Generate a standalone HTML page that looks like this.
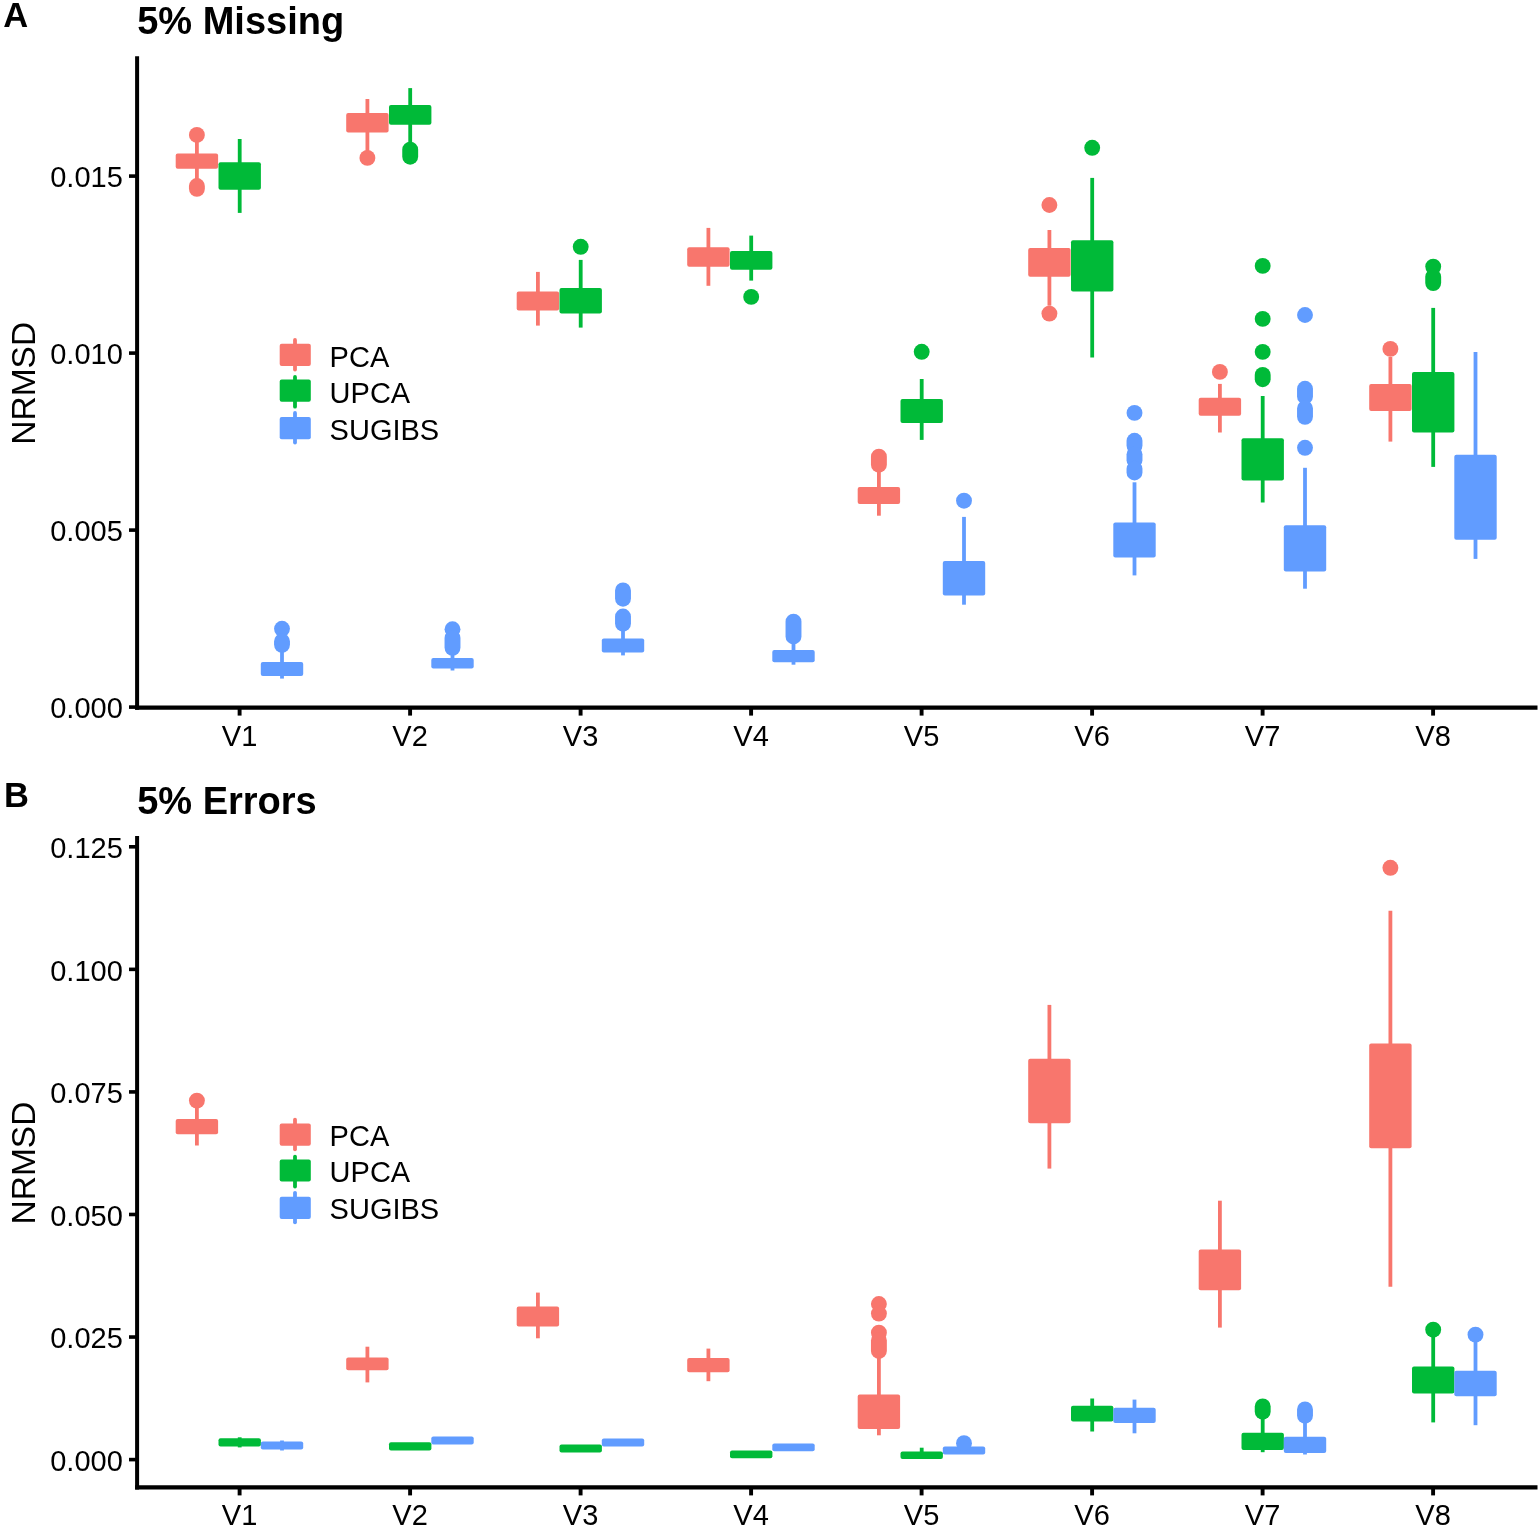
<!DOCTYPE html>
<html><head><meta charset="utf-8"><title>NRMSD boxplots</title>
<style>html,body{margin:0;padding:0;background:#fff;}svg{display:block;}</style>
</head><body>
<svg width="1540" height="1529" viewBox="0 0 1540 1529">
<rect width="1540" height="1529" fill="#fff"/>
<text x="3.3" y="26.8" font-family="Liberation Sans, Arial, sans-serif" font-weight="bold" font-size="34.5">A</text>
<text x="137.2" y="34" font-family="Liberation Sans, Arial, sans-serif" font-weight="bold" font-size="38">5% Missing</text>
<text transform="translate(35.3,383.3) rotate(-90)" text-anchor="middle" font-family="Liberation Sans, Arial, sans-serif" font-size="33.5">NRMSD</text>
<g stroke="#000" stroke-width="4" fill="none">
<line x1="137.1" y1="56.2" x2="137.1" y2="709.75"/>
<line x1="135.1" y1="707.6" x2="1537.5" y2="707.6" stroke-width="4.3"/>
<line x1="129" y1="707.1" x2="137" y2="707.1" stroke-width="3.6"/>
<line x1="129" y1="530.1" x2="137" y2="530.1" stroke-width="3.6"/>
<line x1="129" y1="353.1" x2="137" y2="353.1" stroke-width="3.6"/>
<line x1="129" y1="176.1" x2="137" y2="176.1" stroke-width="3.6"/>
<line x1="239.6" y1="707.6" x2="239.6" y2="715.6" stroke-width="3.9"/>
<line x1="410.1" y1="707.6" x2="410.1" y2="715.6" stroke-width="3.9"/>
<line x1="580.6" y1="707.6" x2="580.6" y2="715.6" stroke-width="3.9"/>
<line x1="751.1" y1="707.6" x2="751.1" y2="715.6" stroke-width="3.9"/>
<line x1="921.6" y1="707.6" x2="921.6" y2="715.6" stroke-width="3.9"/>
<line x1="1092.1" y1="707.6" x2="1092.1" y2="715.6" stroke-width="3.9"/>
<line x1="1262.6" y1="707.6" x2="1262.6" y2="715.6" stroke-width="3.9"/>
<line x1="1433.1" y1="707.6" x2="1433.1" y2="715.6" stroke-width="3.9"/>
</g>
<g font-family="Liberation Sans, Arial, sans-serif" font-size="29" fill="#000">
<text x="122.8" y="718.3" text-anchor="end">0.000</text>
<text x="122.8" y="541.3" text-anchor="end">0.005</text>
<text x="122.8" y="364.3" text-anchor="end">0.010</text>
<text x="122.8" y="187.3" text-anchor="end">0.015</text>
<text x="239.6" y="745.5" text-anchor="middle">V1</text>
<text x="410.1" y="745.5" text-anchor="middle">V2</text>
<text x="580.6" y="745.5" text-anchor="middle">V3</text>
<text x="751.1" y="745.5" text-anchor="middle">V4</text>
<text x="921.6" y="745.5" text-anchor="middle">V5</text>
<text x="1092.1" y="745.5" text-anchor="middle">V6</text>
<text x="1262.6" y="745.5" text-anchor="middle">V7</text>
<text x="1433.1" y="745.5" text-anchor="middle">V8</text>
</g>
<g fill="#F8766D" stroke="#F8766D"><line x1="196.9" y1="140" x2="196.9" y2="154.4" stroke-width="3.8"/><line x1="196.9" y1="167.7" x2="196.9" y2="180" stroke-width="3.8"/><rect x="175.7" y="153.4" width="42.4" height="15.3" rx="2" stroke="none"/><circle cx="196.9" cy="134.9" r="7.95" stroke="none"/><line x1="196.9" y1="186" x2="196.9" y2="188.8" stroke-width="15.9" stroke-linecap="round"/></g>
<g fill="#00BA38" stroke="#00BA38"><line x1="239.7" y1="139" x2="239.7" y2="163.2" stroke-width="3.8"/><line x1="239.7" y1="188.7" x2="239.7" y2="212.9" stroke-width="3.8"/><rect x="218.5" y="162.2" width="42.4" height="27.5" rx="2" stroke="none"/></g>
<g fill="#619CFF" stroke="#619CFF"><line x1="282" y1="648" x2="282" y2="662.9" stroke-width="3.8"/><line x1="282" y1="674.9" x2="282" y2="678.6" stroke-width="3.8"/><rect x="260.8" y="661.9" width="42.4" height="14" rx="2" stroke="none"/><circle cx="282" cy="628.8" r="7.95" stroke="none"/><line x1="282" y1="641.3" x2="282" y2="644.8" stroke-width="15.9" stroke-linecap="round"/></g>
<g fill="#F8766D" stroke="#F8766D"><line x1="367.4" y1="99" x2="367.4" y2="114.1" stroke-width="3.8"/><line x1="367.4" y1="131.6" x2="367.4" y2="157.9" stroke-width="3.8"/><rect x="346.2" y="113.1" width="42.4" height="19.5" rx="2" stroke="none"/><circle cx="367.4" cy="157.9" r="7.95" stroke="none"/></g>
<g fill="#00BA38" stroke="#00BA38"><line x1="410.2" y1="88.1" x2="410.2" y2="106" stroke-width="3.8"/><line x1="410.2" y1="123.7" x2="410.2" y2="150" stroke-width="3.8"/><rect x="389" y="105" width="42.4" height="19.7" rx="2" stroke="none"/><line x1="410.2" y1="149.7" x2="410.2" y2="156.7" stroke-width="15.9" stroke-linecap="round"/></g>
<g fill="#619CFF" stroke="#619CFF"><line x1="452.5" y1="645" x2="452.5" y2="659" stroke-width="3.8"/><line x1="452.5" y1="667.5" x2="452.5" y2="670.5" stroke-width="3.8"/><rect x="431.3" y="658" width="42.4" height="10.5" rx="2" stroke="none"/><circle cx="452.5" cy="629.3" r="7.95" stroke="none"/><line x1="452.5" y1="637.9" x2="452.5" y2="647.8" stroke-width="15.9" stroke-linecap="round"/></g>
<g fill="#F8766D" stroke="#F8766D"><line x1="537.9" y1="271.9" x2="537.9" y2="292.4" stroke-width="3.8"/><line x1="537.9" y1="309.4" x2="537.9" y2="325.6" stroke-width="3.8"/><rect x="516.7" y="291.4" width="42.4" height="19" rx="2" stroke="none"/></g>
<g fill="#00BA38" stroke="#00BA38"><line x1="580.7" y1="259.9" x2="580.7" y2="289.1" stroke-width="3.8"/><line x1="580.7" y1="312.6" x2="580.7" y2="327.6" stroke-width="3.8"/><rect x="559.5" y="288.1" width="42.4" height="25.5" rx="2" stroke="none"/><circle cx="580.7" cy="246.8" r="7.95" stroke="none"/></g>
<g fill="#619CFF" stroke="#619CFF"><line x1="623" y1="624" x2="623" y2="639.6" stroke-width="3.8"/><line x1="623" y1="651.6" x2="623" y2="655.4" stroke-width="3.8"/><rect x="601.8" y="638.6" width="42.4" height="14" rx="2" stroke="none"/><line x1="623" y1="590.4" x2="623" y2="598.7" stroke-width="15.9" stroke-linecap="round"/><line x1="623" y1="616.5" x2="623" y2="623.7" stroke-width="15.9" stroke-linecap="round"/></g>
<g fill="#F8766D" stroke="#F8766D"><line x1="708.4" y1="227.9" x2="708.4" y2="248.2" stroke-width="3.8"/><line x1="708.4" y1="265.7" x2="708.4" y2="285.8" stroke-width="3.8"/><rect x="687.2" y="247.2" width="42.4" height="19.5" rx="2" stroke="none"/></g>
<g fill="#00BA38" stroke="#00BA38"><line x1="751.2" y1="235.6" x2="751.2" y2="252.1" stroke-width="3.8"/><line x1="751.2" y1="268.7" x2="751.2" y2="280.6" stroke-width="3.8"/><rect x="730" y="251.1" width="42.4" height="18.6" rx="2" stroke="none"/><circle cx="751.2" cy="296.9" r="7.95" stroke="none"/></g>
<g fill="#619CFF" stroke="#619CFF"><line x1="793.5" y1="636" x2="793.5" y2="650.9" stroke-width="3.8"/><line x1="793.5" y1="661.3" x2="793.5" y2="664.7" stroke-width="3.8"/><rect x="772.3" y="649.9" width="42.4" height="12.4" rx="2" stroke="none"/><line x1="793.5" y1="621.6" x2="793.5" y2="636.5" stroke-width="15.9" stroke-linecap="round"/></g>
<g fill="#F8766D" stroke="#F8766D"><line x1="878.9" y1="465" x2="878.9" y2="488" stroke-width="3.8"/><line x1="878.9" y1="503" x2="878.9" y2="515.7" stroke-width="3.8"/><rect x="857.7" y="487" width="42.4" height="17" rx="2" stroke="none"/><line x1="878.9" y1="456.7" x2="878.9" y2="464.7" stroke-width="15.9" stroke-linecap="round"/></g>
<g fill="#00BA38" stroke="#00BA38"><line x1="921.7" y1="379" x2="921.7" y2="400.1" stroke-width="3.8"/><line x1="921.7" y1="421.9" x2="921.7" y2="439.9" stroke-width="3.8"/><rect x="900.5" y="399.1" width="42.4" height="23.8" rx="2" stroke="none"/><circle cx="921.7" cy="351.8" r="7.95" stroke="none"/></g>
<g fill="#619CFF" stroke="#619CFF"><line x1="964" y1="516.9" x2="964" y2="562" stroke-width="3.8"/><line x1="964" y1="594.6" x2="964" y2="604.7" stroke-width="3.8"/><rect x="942.8" y="561" width="42.4" height="34.6" rx="2" stroke="none"/><circle cx="964" cy="500.7" r="7.95" stroke="none"/></g>
<g fill="#F8766D" stroke="#F8766D"><line x1="1049.4" y1="230" x2="1049.4" y2="249" stroke-width="3.8"/><line x1="1049.4" y1="275.7" x2="1049.4" y2="305.7" stroke-width="3.8"/><rect x="1028.2" y="248" width="42.4" height="28.7" rx="2" stroke="none"/><circle cx="1049.4" cy="205" r="7.95" stroke="none"/><circle cx="1049.4" cy="313.6" r="7.95" stroke="none"/></g>
<g fill="#00BA38" stroke="#00BA38"><line x1="1092.2" y1="177.9" x2="1092.2" y2="241.2" stroke-width="3.8"/><line x1="1092.2" y1="290.6" x2="1092.2" y2="357.5" stroke-width="3.8"/><rect x="1071" y="240.2" width="42.4" height="51.4" rx="2" stroke="none"/><circle cx="1092.2" cy="147.8" r="7.95" stroke="none"/></g>
<g fill="#619CFF" stroke="#619CFF"><line x1="1134.5" y1="482.3" x2="1134.5" y2="523.5" stroke-width="3.8"/><line x1="1134.5" y1="556.5" x2="1134.5" y2="575.4" stroke-width="3.8"/><rect x="1113.3" y="522.5" width="42.4" height="35" rx="2" stroke="none"/><circle cx="1134.5" cy="412.9" r="7.95" stroke="none"/><line x1="1134.5" y1="440.8" x2="1134.5" y2="445.7" stroke-width="15.9" stroke-linecap="round"/><line x1="1134.5" y1="454.3" x2="1134.5" y2="460.2" stroke-width="15.9" stroke-linecap="round"/><line x1="1134.5" y1="468.8" x2="1134.5" y2="472.5" stroke-width="15.9" stroke-linecap="round"/></g>
<g fill="#F8766D" stroke="#F8766D"><line x1="1219.9" y1="383.9" x2="1219.9" y2="398.8" stroke-width="3.8"/><line x1="1219.9" y1="414.7" x2="1219.9" y2="432.5" stroke-width="3.8"/><rect x="1198.7" y="397.8" width="42.4" height="17.9" rx="2" stroke="none"/><circle cx="1219.9" cy="371.9" r="7.95" stroke="none"/></g>
<g fill="#00BA38" stroke="#00BA38"><line x1="1262.7" y1="396" x2="1262.7" y2="439.3" stroke-width="3.8"/><line x1="1262.7" y1="479.4" x2="1262.7" y2="502.5" stroke-width="3.8"/><rect x="1241.5" y="438.3" width="42.4" height="42.1" rx="2" stroke="none"/><circle cx="1262.7" cy="265.9" r="7.95" stroke="none"/><circle cx="1262.7" cy="318.9" r="7.95" stroke="none"/><circle cx="1262.7" cy="351.9" r="7.95" stroke="none"/><line x1="1262.7" y1="374.9" x2="1262.7" y2="379.2" stroke-width="15.9" stroke-linecap="round"/></g>
<g fill="#619CFF" stroke="#619CFF"><line x1="1305" y1="467.8" x2="1305" y2="526.3" stroke-width="3.8"/><line x1="1305" y1="570.5" x2="1305" y2="588.7" stroke-width="3.8"/><rect x="1283.8" y="525.3" width="42.4" height="46.2" rx="2" stroke="none"/><circle cx="1305" cy="315" r="7.95" stroke="none"/><line x1="1305" y1="388.8" x2="1305" y2="396.5" stroke-width="15.9" stroke-linecap="round"/><line x1="1305" y1="408.3" x2="1305" y2="416.8" stroke-width="15.9" stroke-linecap="round"/><circle cx="1305" cy="447.8" r="7.95" stroke="none"/></g>
<g fill="#F8766D" stroke="#F8766D"><line x1="1390.4" y1="357" x2="1390.4" y2="385" stroke-width="3.8"/><line x1="1390.4" y1="410" x2="1390.4" y2="441.6" stroke-width="3.8"/><rect x="1369.2" y="384" width="42.4" height="27" rx="2" stroke="none"/><circle cx="1390.4" cy="348.9" r="7.95" stroke="none"/></g>
<g fill="#00BA38" stroke="#00BA38"><line x1="1433.2" y1="307.9" x2="1433.2" y2="373.1" stroke-width="3.8"/><line x1="1433.2" y1="431.6" x2="1433.2" y2="466.9" stroke-width="3.8"/><rect x="1412" y="372.1" width="42.4" height="60.5" rx="2" stroke="none"/><circle cx="1433.2" cy="266.6" r="7.95" stroke="none"/><line x1="1433.2" y1="276.8" x2="1433.2" y2="283.1" stroke-width="15.9" stroke-linecap="round"/></g>
<g fill="#619CFF" stroke="#619CFF"><line x1="1475.5" y1="352" x2="1475.5" y2="455.8" stroke-width="3.8"/><line x1="1475.5" y1="538.7" x2="1475.5" y2="558.9" stroke-width="3.8"/><rect x="1454.3" y="454.8" width="42.4" height="84.9" rx="2" stroke="none"/></g>
<line x1="295" y1="339.9" x2="295" y2="369.5" stroke="#F8766D" stroke-width="3.8" stroke-linecap="round"/>
<rect x="279.7" y="343.8" width="31.1" height="22.2" rx="2" fill="#F8766D"/>
<text x="329.6" y="366.5" font-family="Liberation Sans, Arial, sans-serif" font-size="29">PCA</text>
<line x1="295" y1="376.9" x2="295" y2="406.7" stroke="#00BA38" stroke-width="3.8" stroke-linecap="round"/>
<rect x="279.7" y="379.6" width="31.1" height="22.2" rx="2" fill="#00BA38"/>
<text x="329.6" y="402.6" font-family="Liberation Sans, Arial, sans-serif" font-size="29">UPCA</text>
<line x1="295" y1="413" x2="295" y2="442.5" stroke="#619CFF" stroke-width="3.8" stroke-linecap="round"/>
<rect x="279.7" y="417" width="31.1" height="22.2" rx="2" fill="#619CFF"/>
<text x="329.6" y="439.5" font-family="Liberation Sans, Arial, sans-serif" font-size="29">SUGIBS</text>
<text x="4" y="806.6" font-family="Liberation Sans, Arial, sans-serif" font-weight="bold" font-size="34.5">B</text>
<text x="137.2" y="813.8" font-family="Liberation Sans, Arial, sans-serif" font-weight="bold" font-size="38">5% Errors</text>
<text transform="translate(35.3,1163.1) rotate(-90)" text-anchor="middle" font-family="Liberation Sans, Arial, sans-serif" font-size="33.5">NRMSD</text>
<g stroke="#000" stroke-width="4" fill="none">
<line x1="137.1" y1="836" x2="137.1" y2="1489.55"/>
<line x1="135.1" y1="1487.4" x2="1537.5" y2="1487.4" stroke-width="4.3"/>
<line x1="129" y1="1459.6" x2="137" y2="1459.6" stroke-width="3.6"/>
<line x1="129" y1="1337.04" x2="137" y2="1337.04" stroke-width="3.6"/>
<line x1="129" y1="1214.48" x2="137" y2="1214.48" stroke-width="3.6"/>
<line x1="129" y1="1091.92" x2="137" y2="1091.92" stroke-width="3.6"/>
<line x1="129" y1="969.36" x2="137" y2="969.36" stroke-width="3.6"/>
<line x1="129" y1="846.8" x2="137" y2="846.8" stroke-width="3.6"/>
<line x1="239.6" y1="1487.4" x2="239.6" y2="1495.4" stroke-width="3.9"/>
<line x1="410.1" y1="1487.4" x2="410.1" y2="1495.4" stroke-width="3.9"/>
<line x1="580.6" y1="1487.4" x2="580.6" y2="1495.4" stroke-width="3.9"/>
<line x1="751.1" y1="1487.4" x2="751.1" y2="1495.4" stroke-width="3.9"/>
<line x1="921.6" y1="1487.4" x2="921.6" y2="1495.4" stroke-width="3.9"/>
<line x1="1092.1" y1="1487.4" x2="1092.1" y2="1495.4" stroke-width="3.9"/>
<line x1="1262.6" y1="1487.4" x2="1262.6" y2="1495.4" stroke-width="3.9"/>
<line x1="1433.1" y1="1487.4" x2="1433.1" y2="1495.4" stroke-width="3.9"/>
</g>
<g font-family="Liberation Sans, Arial, sans-serif" font-size="29" fill="#000">
<text x="122.8" y="1470.8" text-anchor="end">0.000</text>
<text x="122.8" y="1348.24" text-anchor="end">0.025</text>
<text x="122.8" y="1225.68" text-anchor="end">0.050</text>
<text x="122.8" y="1103.12" text-anchor="end">0.075</text>
<text x="122.8" y="980.56" text-anchor="end">0.100</text>
<text x="122.8" y="858" text-anchor="end">0.125</text>
<text x="239.6" y="1525.3" text-anchor="middle">V1</text>
<text x="410.1" y="1525.3" text-anchor="middle">V2</text>
<text x="580.6" y="1525.3" text-anchor="middle">V3</text>
<text x="751.1" y="1525.3" text-anchor="middle">V4</text>
<text x="921.6" y="1525.3" text-anchor="middle">V5</text>
<text x="1092.1" y="1525.3" text-anchor="middle">V6</text>
<text x="1262.6" y="1525.3" text-anchor="middle">V7</text>
<text x="1433.1" y="1525.3" text-anchor="middle">V8</text>
</g>
<g fill="#F8766D" stroke="#F8766D"><line x1="196.9" y1="1105" x2="196.9" y2="1120" stroke-width="3.8"/><line x1="196.9" y1="1133.3" x2="196.9" y2="1145.5" stroke-width="3.8"/><rect x="175.7" y="1119" width="42.4" height="15.3" rx="2" stroke="none"/><circle cx="196.9" cy="1100.6" r="7.95" stroke="none"/></g>
<g fill="#00BA38" stroke="#00BA38"><line x1="239.7" y1="1437.3" x2="239.7" y2="1439.3" stroke-width="3.8"/><line x1="239.7" y1="1445.4" x2="239.7" y2="1447.4" stroke-width="3.8"/><rect x="218.5" y="1438.3" width="42.4" height="8.1" rx="2" stroke="none"/></g>
<g fill="#619CFF" stroke="#619CFF"><line x1="282" y1="1440.5" x2="282" y2="1442.6" stroke-width="3.8"/><line x1="282" y1="1448.4" x2="282" y2="1450.5" stroke-width="3.8"/><rect x="260.8" y="1441.6" width="42.4" height="7.8" rx="2" stroke="none"/></g>
<g fill="#F8766D" stroke="#F8766D"><line x1="367.4" y1="1346.7" x2="367.4" y2="1358.6" stroke-width="3.8"/><line x1="367.4" y1="1369.3" x2="367.4" y2="1382.4" stroke-width="3.8"/><rect x="346.2" y="1357.6" width="42.4" height="12.7" rx="2" stroke="none"/></g>
<g fill="#00BA38" stroke="#00BA38"><rect x="389" y="1442.2" width="42.4" height="8.3" rx="2" stroke="none"/></g>
<g fill="#619CFF" stroke="#619CFF"><rect x="431.3" y="1436.6" width="42.4" height="7.8" rx="2" stroke="none"/></g>
<g fill="#F8766D" stroke="#F8766D"><line x1="537.9" y1="1292.6" x2="537.9" y2="1307.4" stroke-width="3.8"/><line x1="537.9" y1="1325.4" x2="537.9" y2="1338.3" stroke-width="3.8"/><rect x="516.7" y="1306.4" width="42.4" height="20" rx="2" stroke="none"/></g>
<g fill="#00BA38" stroke="#00BA38"><rect x="559.5" y="1444.5" width="42.4" height="7.9" rx="2" stroke="none"/></g>
<g fill="#619CFF" stroke="#619CFF"><rect x="601.8" y="1438.5" width="42.4" height="7.9" rx="2" stroke="none"/></g>
<g fill="#F8766D" stroke="#F8766D"><line x1="708.4" y1="1348.6" x2="708.4" y2="1358.9" stroke-width="3.8"/><line x1="708.4" y1="1371.2" x2="708.4" y2="1381.2" stroke-width="3.8"/><rect x="687.2" y="1357.9" width="42.4" height="14.3" rx="2" stroke="none"/></g>
<g fill="#00BA38" stroke="#00BA38"><rect x="730" y="1450.5" width="42.4" height="7.7" rx="2" stroke="none"/></g>
<g fill="#619CFF" stroke="#619CFF"><rect x="772.3" y="1443.6" width="42.4" height="7.7" rx="2" stroke="none"/></g>
<g fill="#F8766D" stroke="#F8766D"><line x1="878.9" y1="1352" x2="878.9" y2="1395.5" stroke-width="3.8"/><line x1="878.9" y1="1428.1" x2="878.9" y2="1435.3" stroke-width="3.8"/><rect x="857.7" y="1394.5" width="42.4" height="34.6" rx="2" stroke="none"/><circle cx="878.9" cy="1304" r="7.95" stroke="none"/><circle cx="878.9" cy="1313.6" r="7.95" stroke="none"/><circle cx="878.9" cy="1332.7" r="7.95" stroke="none"/><line x1="878.9" y1="1340.4" x2="878.9" y2="1351" stroke-width="15.9" stroke-linecap="round"/></g>
<g fill="#00BA38" stroke="#00BA38"><line x1="921.7" y1="1447.7" x2="921.7" y2="1452.4" stroke-width="3.8"/><rect x="900.5" y="1451.4" width="42.4" height="7.5" rx="2" stroke="none"/></g>
<g fill="#619CFF" stroke="#619CFF"><rect x="942.8" y="1446.5" width="42.4" height="8" rx="2" stroke="none"/><circle cx="964" cy="1443.2" r="7.95" stroke="none"/></g>
<g fill="#F8766D" stroke="#F8766D"><line x1="1049.4" y1="1004.9" x2="1049.4" y2="1059.7" stroke-width="3.8"/><line x1="1049.4" y1="1122.3" x2="1049.4" y2="1168.6" stroke-width="3.8"/><rect x="1028.2" y="1058.7" width="42.4" height="64.6" rx="2" stroke="none"/></g>
<g fill="#00BA38" stroke="#00BA38"><line x1="1092.2" y1="1398.5" x2="1092.2" y2="1406.8" stroke-width="3.8"/><line x1="1092.2" y1="1420.5" x2="1092.2" y2="1431.5" stroke-width="3.8"/><rect x="1071" y="1405.8" width="42.4" height="15.7" rx="2" stroke="none"/></g>
<g fill="#619CFF" stroke="#619CFF"><line x1="1134.5" y1="1399.6" x2="1134.5" y2="1408.8" stroke-width="3.8"/><line x1="1134.5" y1="1422.1" x2="1134.5" y2="1433.3" stroke-width="3.8"/><rect x="1113.3" y="1407.8" width="42.4" height="15.3" rx="2" stroke="none"/></g>
<g fill="#F8766D" stroke="#F8766D"><line x1="1219.9" y1="1200.7" x2="1219.9" y2="1250.6" stroke-width="3.8"/><line x1="1219.9" y1="1289.2" x2="1219.9" y2="1327.6" stroke-width="3.8"/><rect x="1198.7" y="1249.6" width="42.4" height="40.6" rx="2" stroke="none"/></g>
<g fill="#00BA38" stroke="#00BA38"><line x1="1262.7" y1="1412" x2="1262.7" y2="1433.7" stroke-width="3.8"/><line x1="1262.7" y1="1449" x2="1262.7" y2="1452.2" stroke-width="3.8"/><rect x="1241.5" y="1432.7" width="42.4" height="17.3" rx="2" stroke="none"/><line x1="1262.7" y1="1406.4" x2="1262.7" y2="1411.7" stroke-width="15.9" stroke-linecap="round"/></g>
<g fill="#619CFF" stroke="#619CFF"><line x1="1305" y1="1415" x2="1305" y2="1437.7" stroke-width="3.8"/><line x1="1305" y1="1452.1" x2="1305" y2="1454.5" stroke-width="3.8"/><rect x="1283.8" y="1436.7" width="42.4" height="16.4" rx="2" stroke="none"/><line x1="1305" y1="1409.4" x2="1305" y2="1415.7" stroke-width="15.9" stroke-linecap="round"/></g>
<g fill="#F8766D" stroke="#F8766D"><line x1="1390.4" y1="910.7" x2="1390.4" y2="1044.6" stroke-width="3.8"/><line x1="1390.4" y1="1147.2" x2="1390.4" y2="1286.8" stroke-width="3.8"/><rect x="1369.2" y="1043.6" width="42.4" height="104.6" rx="2" stroke="none"/><circle cx="1390.4" cy="867.8" r="7.95" stroke="none"/></g>
<g fill="#00BA38" stroke="#00BA38"><line x1="1433.2" y1="1330" x2="1433.2" y2="1367.5" stroke-width="3.8"/><line x1="1433.2" y1="1392.4" x2="1433.2" y2="1422.4" stroke-width="3.8"/><rect x="1412" y="1366.5" width="42.4" height="26.9" rx="2" stroke="none"/><circle cx="1433.2" cy="1329.7" r="7.95" stroke="none"/></g>
<g fill="#619CFF" stroke="#619CFF"><line x1="1475.5" y1="1335" x2="1475.5" y2="1371.8" stroke-width="3.8"/><line x1="1475.5" y1="1395.2" x2="1475.5" y2="1425.2" stroke-width="3.8"/><rect x="1454.3" y="1370.8" width="42.4" height="25.4" rx="2" stroke="none"/><circle cx="1475.5" cy="1334.6" r="7.95" stroke="none"/></g>
<line x1="295" y1="1119.7" x2="295" y2="1149.3" stroke="#F8766D" stroke-width="3.8" stroke-linecap="round"/>
<rect x="279.7" y="1123.6" width="31.1" height="22.2" rx="2" fill="#F8766D"/>
<text x="329.6" y="1146.3" font-family="Liberation Sans, Arial, sans-serif" font-size="29">PCA</text>
<line x1="295" y1="1156.7" x2="295" y2="1186.5" stroke="#00BA38" stroke-width="3.8" stroke-linecap="round"/>
<rect x="279.7" y="1159.4" width="31.1" height="22.2" rx="2" fill="#00BA38"/>
<text x="329.6" y="1182.4" font-family="Liberation Sans, Arial, sans-serif" font-size="29">UPCA</text>
<line x1="295" y1="1192.8" x2="295" y2="1222.3" stroke="#619CFF" stroke-width="3.8" stroke-linecap="round"/>
<rect x="279.7" y="1196.8" width="31.1" height="22.2" rx="2" fill="#619CFF"/>
<text x="329.6" y="1219.3" font-family="Liberation Sans, Arial, sans-serif" font-size="29">SUGIBS</text>
</svg>
</body></html>
